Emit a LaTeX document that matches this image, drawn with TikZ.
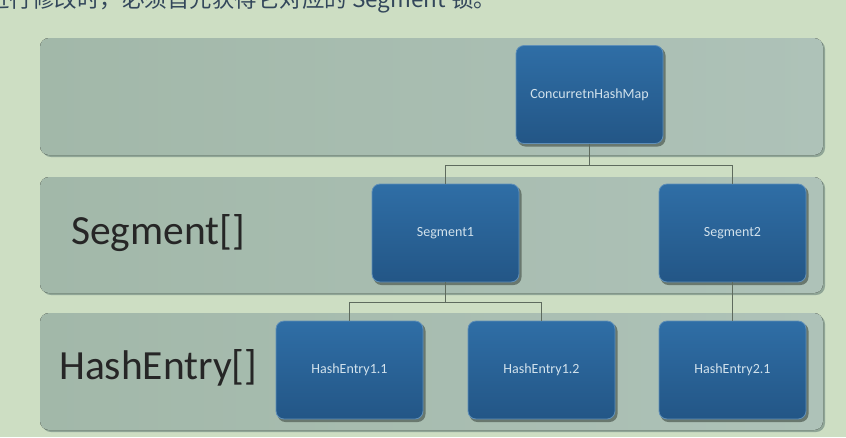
\documentclass[tikz,border=0pt]{standalone}
\usepackage{fontspec}
\setmainfont{Carlito}
\newfontfamily\cjk{Noto Sans CJK SC}
\usetikzlibrary{positioning}
\definecolor{bgc}{HTML}{CDDEC3}
\definecolor{bandl}{HTML}{A2B8A9}
\definecolor{bandr}{HTML}{AEC2B8}
\definecolor{bandsh}{HTML}{8FA596}
\definecolor{boxtop}{HTML}{2F6EA6}
\definecolor{boxbot}{HTML}{235686}
\definecolor{boxedge}{HTML}{5F8FB8}
\definecolor{boxtext}{HTML}{D2E2EC}
\definecolor{linec}{HTML}{5E6B5E}
\definecolor{toptext}{HTML}{33475B}
\tikzset{
  band/.style={rounded corners=9pt, left color=bandl, right color=bandr, draw=none},
  bandshadow/.style={rounded corners=9pt, fill=bandsh, draw=none},
  mbox/.style={rounded corners=8pt, top color=boxtop, bottom color=boxbot,
    draw=boxedge, line width=0.8pt, minimum width=147pt, minimum height=98pt,
    inner sep=0pt, text=boxtext, font=\fontsize{14}{16}\selectfont},
  boxshadow/.style={rounded corners=8pt, fill=black!35!bandl, draw=none},
  conn/.style={draw=linec, line width=0.9pt},
  biglabel/.style={font=\fontsize{41.5}{48}\selectfont, text=black!85, inner sep=0pt}
}
\begin{document}
\begin{tikzpicture}[x=1pt,y=-1pt]
\useasboundingbox (0,0) rectangle (846,437);
\fill[bgc] (0,0) rectangle (846,437);
\node[anchor=base west, inner sep=0pt, text=toptext, font=\cjk\fontsize{22.5}{26}\selectfont] (top) at (-13,7) {进行修改时，必须首先获得它对应的 Segment 锁。};
% bands
\foreach \t/\b in {38/155, 177/293, 313/430}{
  \fill[bandshadow] (42,\t+2) rectangle (825,\b+2);
  \fill[band] (40,\t) rectangle (823,\b);
}
% box shadows
\foreach \x/\y in {589.5/94.5, 445.5/233, 732.5/233, 349.5/370, 541.5/370, 732.5/370}{
  \fill[boxshadow] (\x-72,\y-47) rectangle (\x+76,\y+52);
}
\node[mbox] (chm) at (589.5,94.5) {ConcurretnHashMap};
\node[mbox] (s1) at (445.5,233) {Segment1};
\node[mbox] (s2) at (732.5,233) {Segment2};
\node[mbox] (h11) at (349.5,370) {HashEntry1.1};
\node[mbox] (h12) at (541.5,370) {HashEntry1.2};
\node[mbox] (h21) at (732.5,370) {HashEntry2.1};
\coordinate (j1) at (589.5,165);
\coordinate (j2) at (445.5,302);
\draw[conn] (chm.south) -- (j1);
\draw[conn] (j1) -| (s1.north);
\draw[conn] (j1) -| (s2.north);
\draw[conn] (s1.south) -- (j2);
\draw[conn] (j2) -| (h11.north);
\draw[conn] (j2) -| (h12.north);
\draw[conn] (s2.south) -- (h21.north);
\node[biglabel, anchor=west] (lseg) at (71,233) {Segment[]};
\node[biglabel, anchor=west] (lhash) at (59,368) {HashEntry[]};
\end{tikzpicture}
\end{document}
